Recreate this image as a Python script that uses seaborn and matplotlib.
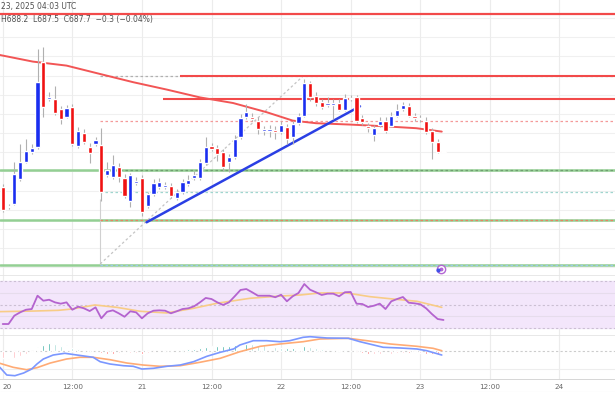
import numpy as np
import matplotlib.pyplot as plt
import seaborn as sns

# hourly candles, 20 Jan 00:00 -> 23 Jan 04:00 UTC (x = hours since 20 Jan 00:00)
opens = [670.0, 660.0, 661.5, 674.0, 682.7, 687.5, 690.0, 732.7, 714.0, 714.0,
         709.0, 705.2, 710.2, 690.5, 697.2, 690.2, 691.5, 691.2, 676.0, 675.0,
         680.2, 674.5, 663.2, 672.2, 674.5, 660.7, 666.5, 670.2, 670.0, 670.5,
         664.5, 667.5, 671.5, 674.3, 674.3, 682.0, 690.3, 689.3, 687.3, 682.3,
         684.8, 694.8, 704.8, 705.2, 703.2, 698.3, 698.3, 698.7, 697.7, 699.8,
         694.8, 702.0, 705.7, 722.0, 715.7, 712.3, 711.2, 711.2, 711.8, 708.7,
         714.5, 714.8, 704.3, 700.3, 696.0, 701.0, 703.2, 700.7, 705.7, 709.0,
         710.7, 705.2, 704.6, 703.2, 698.2, 692.3, 688.0]
highs = [671.5, 661.5, 682.5, 691.5, 694.0, 691.5, 739.0, 740.0, 717.5, 720.7,
         710.5, 711.0, 711.5, 700.0, 699.0, 692.0, 695.0, 699.5, 682.5, 686.0,
         682.0, 676.5, 677.0, 675.0, 676.0, 667.5, 674.0, 674.5, 672.5, 672.0,
         669.0, 674.0, 676.0, 678.0, 684.0, 695.0, 692.0, 691.0, 689.0, 686.5,
         696.0, 706.5, 711.5, 707.0, 705.0, 700.5, 701.0, 700.5, 703.0, 701.5,
         703.0, 707.0, 724.0, 723.0, 717.5, 714.0, 715.0, 714.0, 714.0, 716.5,
         716.0, 716.0, 706.0, 702.0, 701.0, 705.0, 705.0, 707.5, 711.5, 712.5,
         712.0, 707.0, 706.0, 705.0, 699.5, 694.0, 688.2]
lows = [657.5, 659.0, 661.0, 673.0, 682.0, 686.5, 689.0, 705.0, 713.0, 706.0,
        701.5, 704.5, 690.5, 689.5, 691.5, 682.0, 690.5, 663.2, 675.0, 674.0,
        672.5, 664.5, 660.0, 671.0, 655.7, 659.5, 665.5, 669.0, 669.0, 664.5,
        663.5, 666.5, 670.5, 673.5, 673.5, 681.0, 688.0, 683.0, 678.0, 677.5,
        684.0, 694.0, 704.0, 703.0, 696.5, 696.0, 695.0, 694.0, 696.5, 691.5,
        691.5, 701.0, 705.0, 713.0, 710.5, 709.0, 710.0, 704.0, 708.0, 708.0,
        713.0, 702.0, 701.0, 697.5, 693.2, 700.0, 697.0, 700.0, 705.0, 708.0,
        705.0, 703.0, 702.5, 696.5, 684.0, 687.0, 687.5]
closes = [658.5, 660.5, 676.5, 682.7, 688.2, 689.5, 722.7, 710.2, 714.8, 707.0,
          704.0, 709.5, 691.5, 698.0, 692.7, 686.9, 693.5, 667.7, 678.7, 681.0,
          675.0, 665.7, 676.0, 673.0, 657.7, 666.5, 671.8, 672.7, 671.0, 665.7,
          667.7, 672.3, 673.7, 676.0, 682.7, 689.8, 689.0, 686.5, 679.8, 684.8,
          694.0, 704.5, 707.7, 704.0, 699.0, 698.8, 698.8, 697.7, 701.0, 694.0,
          701.5, 705.3, 722.0, 714.8, 712.0, 709.8, 711.7, 711.7, 708.7, 714.3,
          714.0, 703.2, 702.3, 699.5, 699.3, 702.8, 697.8, 705.7, 708.5, 711.0,
          705.7, 704.7, 704.1, 697.3, 692.3, 687.7, 687.7]

# moving average on price (read at a few points)
ma_h = [-0.5, 5.2, 11.0, 16.8, 22.5, 28.3, 34.0, 39.7, 45.5, 50.0, 54.0, 60.0, 65.5, 71.3, 75.7]
ma = [736.0, 732.7, 730.7, 726.5, 722.4, 718.7, 714.8, 712.0, 707.4, 703.2, 701.9, 701.2, 700.4, 699.4, 697.7]

# drawn levels and lines
top_level = 756.75
res_1 = 725.4
res_2 = 714.25
fib_levels = [725.4, 703.0, 678.5, 667.5, 653.75, 631.0]
green_levels = [678.5, 653.75, 631.0]
trend_h = [24.8, 61.6]
trend_p = [652.35, 710.35]
fib_diag_h = [16.8, 51.8]
fib_diag_p = [631.5, 725.5]

# RSI
rsi = [33.6, 33.6, 40.6, 43.4, 45.6, 46.2, 57.4, 53.2, 54.0, 51.8,
       50.7, 51.8, 45.6, 48.2, 46.8, 44.5, 47.6, 38.4, 43.9, 45.1,
       42.6, 39.7, 44.3, 43.4, 38.4, 42.6, 44.8, 45.1, 44.8, 42.6,
       44.3, 46.2, 46.8, 48.5, 51.8, 55.5, 54.6, 51.8, 49.6, 51.8,
       56.9, 62.2, 63.0, 60.3, 57.4, 57.4, 57.4, 56.1, 58.2, 52.7,
       56.9, 59.7, 67.2, 62.4, 60.3, 58.0, 59.1, 59.1, 56.9, 60.3,
       60.5, 50.7, 50.4, 47.9, 49.0, 50.7, 46.2, 52.7, 54.6, 56.3,
       51.5, 51.0, 50.2, 46.8, 42.0, 37.8, 37.0]
rsi_ma_h = [-0.5, 5.3, 9.6, 11.9, 15.9, 19.7, 23.7, 28.3, 32.9, 36.9, 42.6, 47.2, 51.3,
            54.7, 59.3, 63.3, 67.3, 71.4, 75.7]
rsi_ma = [44.0, 44.5, 45.1, 46.2, 49.6, 47.6, 44.3, 42.9, 46.8, 51.0, 55.2, 56.9, 58.0,
          59.7, 59.7, 56.6, 54.6, 52.7, 47.6]

# MACD
macd_h = [-0.5, 0.7, 2.1, 3.6, 5.0, 5.9, 7.0, 8.7, 10.7, 12.8, 15.6, 16.8, 18.5, 20.8,
          22.5, 24.0, 26.0, 28.3, 30.6, 32.9, 35.2, 37.5, 39.8, 40.9, 43.2, 45.5, 47.8,
          49.5, 51.8, 53.0, 55.9, 59.6, 61.6, 65.6, 68.5, 71.4, 73.1, 75.7]
macd = [-4.15, -6.08, -6.25, -5.58, -4.58, -3.33, -2.08, -1.08, -0.65, -1.08, -1.65,
        -2.75, -3.33, -3.75, -3.9, -4.58, -4.4, -3.9, -3.58, -2.75, -1.4, -0.4, 0.43,
        1.43, 2.5, 2.5, 2.25, 2.5, 3.35, 3.5, 3.18, 3.1, 2.25, 0.85, 0.68, 0.43, 0.0, -1.08]
signal_h = [-0.5, 1.8, 4.1, 5.9, 8.2, 11.0, 13.3, 15.6, 18.5, 21.4, 24.2, 27.1, 30.6,
            34.0, 37.5, 40.9, 44.4, 47.8, 51.8, 54.7, 59.6, 62.8, 66.8, 71.4, 74.2, 75.7]
signal = [-3.15, -4.15, -4.75, -4.25, -3.08, -2.08, -1.65, -1.65, -2.25, -3.08, -3.58,
          -3.9, -3.75, -2.9, -1.9, -0.25, 1.1, 1.68, 2.25, 2.93, 3.1, 2.5, 1.68, 1.1, 0.6, 0.0]
hist = [-1.75, -2.0, -1.875, -1.375, -0.875, -0.375, 1.0, 1.375, 2.0, 1.625,
        1.25, 1.375, 0.625, 0.375, 0.125, 0.0, -0.125, -0.625, -0.75, -0.875,
        -0.625, -0.875, -0.5, -0.5, -0.875, -0.625, -0.375, -0.25, -0.125, 0.0,
        0.125, 0.25, 0.375, 0.5, 0.625, 1.0, 1.125, 1.125, 1.125, 1.25,
        1.375, 1.625, 1.75, 1.625, 1.5, 1.375, 1.125, 0.875, 0.625, 0.625,
        0.625, 0.75, 1.125, 1.0, 0.75, 0.5, 0.375, 0.25, 0.125, 0.125,
        0.0, -0.375, -0.625, -0.75, -0.75, -0.75, -0.875, -0.75, -0.625, -0.5,
        -0.625, -0.625, -0.625, -0.75, -0.875, -1.0, -1.125]

day_ticks = [0, 12, 24, 36, 48, 60, 72, 84, 96]
day_labels = ['20', '12:00', '21', '12:00', '22', '12:00', '23', '12:00', '24']
header_1 = '23, 2025 04:03 UTC'
header_2 = 'H688.2  L687.5  C687.7  \u22120.3 (\u22120.04%)'

sns.set_theme(style='white')
plt.rcParams['font.family'] = ['DejaVu Sans']

H = 410
fig = plt.figure(figsize=(6.15, 4.1), dpi=100)


def pane(top, bottom):
    a = fig.add_axes([0, 1 - bottom / H, 1, (bottom - top) / H])
    a.set_xlim(-0.47, 105.57)
    for s in a.spines.values():
        s.set_visible(False)
    a.set_xticks([])
    a.set_yticks([])
    return a


ax = pane(0, 276)
ax_rsi = pane(276, 336)
ax_macd = pane(336, 380)
ax_t = pane(380, 393)

# ---- price pane
ax.set_ylim(626, 764)
for n in range(1, 15):
    ax.axhline(764 - 9.575 * n, color='#f0f0f0', lw=0.8, zorder=0)
for a in (ax, ax_rsi, ax_macd):
    for t in day_ticks:
        a.axvline(t, color='#ececec', lw=0.8, zorder=0)

o = np.array(opens)
c = np.array(closes)
x = np.arange(len(c))
up = c >= o
body = np.maximum(np.abs(c - o), 0.8)
bottom = (o + c) / 2 - body / 2
ax.vlines(x, lows, highs, color='#b0b0b0', lw=0.8, zorder=3)
ax.bar(x, body, bottom=bottom, width=0.7, color=np.where(up, '#1a2ef0', '#f01212'), zorder=4)

# fib tool and levels
for lvl, col in zip(fib_levels, ['#b0b0b0', '#f49a9a', '#6f9f6f', '#9fd6cf', '#e8825f', '#9cc8ea']):
    ax.hlines(lvl, 16.8, 106, colors=col, linestyles=(0, (2, 2)), lw=0.9, zorder=2)
for lvl in green_levels:
    ax.axhline(lvl, color='#93cf93', lw=1.8, zorder=1)
ax.vlines(16.8, 631.5, 664, colors='#d0d0d0', lw=0.8, zorder=1)
sns.lineplot(x=fib_diag_h, y=fib_diag_p, ax=ax, color='#c4c4c4', lw=0.9, linestyle=(0, (2, 2)))

ax.axhline(top_level, color='#f24a4a', lw=1.6, zorder=2)
ax.hlines(res_1, 30.6, 106, colors='#f24a4a', lw=1.5, zorder=2)
ax.hlines(res_2, 27.6, 106, colors='#f24a4a', lw=1.5, zorder=2)

sns.lineplot(x=ma_h, y=ma, ax=ax, color='#f25555', lw=1.4, sort=False, estimator=None)
sns.lineplot(x=trend_h, y=trend_p, ax=ax, color='#2a3fe4', lw=1.8)

ax.plot(75.6, 629.2, marker='o', mfc='white', mec='#b467d4', ms=6, mew=1, zorder=5)
ax.plot(75.6, 629.2, marker='o', color='#b467d4', ms=1.8, zorder=6)
ax.plot(75.0, 628.4, marker='o', color='#4050e8', ms=2, zorder=6)

fig.text(0.002, 1 - 6.3 / H, header_1, fontsize=5.5, color='#505050', va='center')
fig.text(0.002, 1 - 19.5 / H, header_2, fontsize=5.5, color='#505050', va='center')

# ---- RSI pane
ax_rsi.set_ylim(24.37, 74.79)
ax_rsi.axhspan(30, 70, color='#f3e6fb', zorder=0)
for lvl in (60, 40):
    ax_rsi.axhline(lvl, color='#e6dcec', lw=0.8, zorder=1)
for lvl in (70, 50, 30):
    ax_rsi.axhline(lvl, color='#cbbfd3', lw=0.8, ls=(0, (2, 2)), zorder=1)
sns.lineplot(x=rsi_ma_h, y=rsi_ma, ax=ax_rsi, color='#f8cc86', lw=1.2, sort=False, estimator=None)
sns.lineplot(x=x, y=rsi, ax=ax_rsi, color='#b463cf', lw=1.3, sort=False, estimator=None)
ax_rsi.axhline(74.79, color='#e4e4e4', lw=1.2)

# ---- MACD pane
ax_macd.set_ylim(-7.075, 3.925)
ax_macd.axhline(3.925, color='#e4e4e4', lw=1.2)
ax_macd.axhline(-4.575, color='#eeeeee', lw=0.8, zorder=0)
ax_macd.axhline(0, color='#cccccc', lw=0.8, ls=(0, (2, 2)), zorder=1)
colors = []
for i, v in enumerate(hist):
    prev = hist[i - 1] if i else v
    if v >= 0:
        colors.append('#26a69a' if v >= prev else '#9fd8d2')
    else:
        colors.append('#ff5a5a' if v < prev else '#ffb3b8')
ax_macd.bar(x, hist, width=0.3, color=colors, zorder=2)
sns.lineplot(x=signal_h, y=signal, ax=ax_macd, color='#ffab75', lw=1.2, sort=False, estimator=None)
sns.lineplot(x=macd_h, y=macd, ax=ax_macd, color='#7b97ff', lw=1.2, sort=False, estimator=None)

# ---- time axis
ax_t.set_ylim(0, 1)
ax_t.axhline(1, color='#cfcfcf', lw=1.2)
ax_t.axhline(0, color='#ececec', lw=0.8)
for t, lab in zip(day_ticks, day_labels):
    ax_t.text(max(t, 0.7), 0.45, lab, fontsize=5.2, color='#666666', ha='center', va='center')

for a in (ax, ax_rsi, ax_macd):
    leg = a.get_legend()
    if leg:
        leg.remove()
    a.set_xlabel('')
    a.set_ylabel('')

fig.savefig('out.png', dpi=100)
